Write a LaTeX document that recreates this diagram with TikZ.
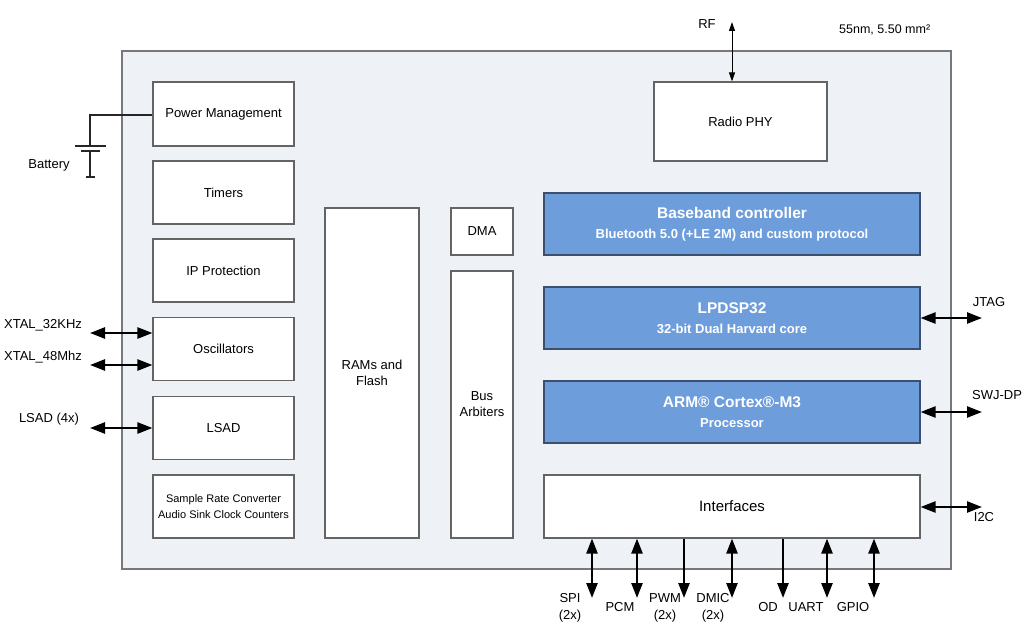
\documentclass[tikz,border=0pt]{standalone}
\usepackage{fontspec}
\setmainfont{Liberation Sans}
\usetikzlibrary{arrows.meta}
\definecolor{outerfill}{RGB}{238,241,246}
\definecolor{outerdraw}{RGB}{120,120,120}
\definecolor{boxdraw}{RGB}{100,100,100}
\definecolor{bluefill}{RGB}{109,157,219}
\definecolor{bluedraw}{RGB}{60,80,110}
\tikzset{
  wbox/.style={draw=boxdraw, line width=1.1pt, fill=white, inner sep=0pt, align=center,
     font=\fontsize{13}{16}\selectfont},
  bbox/.style={draw=bluedraw, line width=1.1pt, fill=bluefill, inner sep=0pt, align=center,
     text=white, minimum width=376pt, minimum height=62pt, font=\fontsize{13}{20}\selectfont\bfseries},
  btitle/.style={},
  lbl/.style={inner sep=0pt, align=center, font=\fontsize{13}{17}\selectfont},
  bigarr/.style={line width=2.4pt, {Triangle[length=15pt,width=11pt]}-{Triangle[length=15pt,width=11pt]}},
  downarr/.style={line width=2.4pt, -{Triangle[length=15pt,width=11pt]}},
  thinarr/.style={line width=1pt, {Triangle[length=9pt,width=6pt]}-{Triangle[length=9pt,width=6pt]}},
  wire/.style={line width=1.2pt, draw=black!85}
}
\newcommand{\btl}[1]{{\fontsize{15.5}{20}\selectfont #1}}
\begin{document}
\begin{tikzpicture}[x=1pt,y=-1pt]
\useasboundingbox (0,0) rectangle (1023,634);
\fill[white] (0,0) rectangle (1023,634);
% outer chip
\draw[draw=outerdraw, line width=1.4pt, fill=outerfill] (122,51) rectangle (951,569);

% left column
\node[wbox, minimum width=141pt, minimum height=64pt] (pm) at (223.5,114) {Power Management};
\node[wbox, minimum width=141pt, minimum height=63pt] (tim) at (223.5,192.5) {Timers};
\node[wbox, minimum width=141pt, minimum height=63pt] (ip) at (223.5,270.5) {IP Protection};
\node[wbox, minimum width=141pt, minimum height=63pt] (osc) at (223.5,349) {Oscillators};
\node[wbox, minimum width=141pt, minimum height=63pt] (lsad) at (223.5,428) {LSAD};
\node[wbox, minimum width=141pt, minimum height=63pt, font=\fontsize{11}{16}\selectfont] (src) at (223.5,506.5) {Sample Rate Converter\\Audio Sink Clock Counters};

% memory / bus
\node[wbox, minimum width=94pt, minimum height=330pt] (ram) at (372,373) {RAMs and\\Flash};
\node[wbox, minimum width=62pt, minimum height=47pt] (dma) at (482,231.5) {DMA};
\node[wbox, minimum width=62pt, minimum height=267pt] (bus) at (482,404.5) {Bus\\Arbiters};

% right
\node[wbox, minimum width=173pt, minimum height=79pt] (radio) at (740.5,121.5) {Radio PHY};
\node[bbox] (bb) at (732,224) {\btl{Baseband controller}\\Bluetooth 5.0 (+LE 2M) and custom protocol};
\node[bbox] (dsp) at (732,318) {\btl{LPDSP32}\\32-bit Dual Harvard core};
\node[bbox] (arm) at (732,412) {\btl{ARM® Cortex®-M3}\\Processor};
\node[wbox, minimum width=376pt, minimum height=63pt, font=\fontsize{15}{18}\selectfont] (intf) at (732,506.5) {Interfaces};

% top labels
\node[lbl] (rf) at (707,24) {RF};
\coordinate (rfend) at (732,22);
\draw[thinarr] (rfend) -- (radio.north -| rfend);
\node[lbl, font=\fontsize{12.5}{15}\selectfont, anchor=west] (tech) at (839,30) {55nm, 5.50 mm²};

% battery
\node[lbl] (batt) at (49,165) {Battery};
\coordinate (bc) at (90,115);
\coordinate (bp1) at (90,146);
\coordinate (bp2) at (90,151);
\coordinate (bbot) at (90,177);
\draw[wire] (pm.west |- bc) -- (bc) -- (bp1);
\draw[wire] (75,146) -- (106,146);
\draw[wire] (81,151) -- (100,151);
\draw[wire] (bp2) -- (bbot);
\draw[wire] (86,177) -- (95,177);

% left signals
\node[lbl] (x32) at (43,325) {XTAL\_32KHz};
\node[lbl] (x48) at (43,357) {XTAL\_48Mhz};
\node[lbl] (lsadl) at (49,419) {LSAD (4x)};
\coordinate (x32e) at (90,333);
\coordinate (x48e) at (90,365);
\coordinate (lsade) at (90,428);
\draw[bigarr] (x32e) -- (osc.west |- x32e);
\draw[bigarr] (x48e) -- (osc.west |- x48e);
\draw[bigarr] (lsade) -- (lsad.west |- lsade);

% right signals
\coordinate (jt) at (982,318);
\coordinate (sw) at (982,412);
\coordinate (i2) at (982,507);
\draw[bigarr] (dsp.east |- jt) -- (jt);
\draw[bigarr] (arm.east |- sw) -- (sw);
\draw[bigarr] (intf.east |- i2) -- (i2);
\node[lbl] (jtag) at (989,302) {JTAG};
\node[lbl] (swj) at (997,395) {SWJ-DP};
\node[lbl] (i2c) at (984,517) {I2C};

% bottom signals
\coordinate (spi) at (592,598);
\coordinate (pcm) at (637,598);
\coordinate (pwm) at (684,598);
\coordinate (dmic) at (732,598);
\coordinate (od) at (783,598);
\coordinate (uart) at (827,598);
\coordinate (gpio) at (874,598);
\draw[bigarr] (intf.south -| spi) -- (spi);
\draw[bigarr] (intf.south -| pcm) -- (pcm);
\draw[downarr] (intf.south -| pwm) -- (pwm);
\draw[bigarr] (intf.south -| dmic) -- (dmic);
\draw[downarr] (intf.south -| od) -- (od);
\draw[bigarr] (intf.south -| uart) -- (uart);
\draw[bigarr] (intf.south -| gpio) -- (gpio);
\node[lbl] (spil) at (570,608) {SPI\\(2x)};
\node[lbl] (pcml) at (620,607) {PCM};
\node[lbl] (pwml) at (665,608) {PWM\\(2x)};
\node[lbl] (dmicl) at (713,608) {DMIC\\(2x)};
\node[lbl] (odl) at (768,607) {OD};
\node[lbl] (uartl) at (806,607) {UART};
\node[lbl] (gpiol) at (853,607) {GPIO};
\end{tikzpicture}
\end{document}
